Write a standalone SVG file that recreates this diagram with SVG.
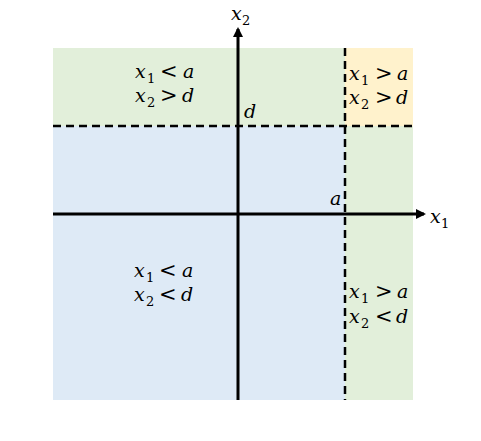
<svg xmlns="http://www.w3.org/2000/svg" width="481" height="441" viewBox="0 0 481 441">
<style>
.m{font-family:"DejaVu Serif","Liberation Serif",serif;font-style:italic;font-size:19px;fill:#000}
.s{font-style:normal;font-size:13px}
.o{font-style:normal;font-size:21px}
.dash{stroke:#000;stroke-width:2.5;stroke-dasharray:8,5;fill:none}
.ax{stroke:#000;stroke-width:3;fill:none}
</style>
<defs>
<marker id="ah" markerWidth="10" markerHeight="10" refX="8" refY="5" orient="auto" markerUnits="userSpaceOnUse">
<path d="M0,0 L10,5 L0,10 Z" fill="#000"/>
</marker>
</defs>
<rect width="481" height="441" fill="#fff"/>
<g id="regions">
<rect id="r-tl" x="53" y="48" width="292" height="78" fill="#E2EFDA"/>
<rect id="r-tr" x="345" y="48" width="68" height="78" fill="#FFF2CC"/>
<rect id="r-bl" x="53" y="126" width="292" height="274" fill="#DEEAF6"/>
<rect id="r-br" x="345" y="126" width="68" height="274" fill="#E2EFDA"/>
</g>
<g id="connectors">
<line class="dash" x1="53" y1="126" x2="413" y2="126"/>
<line class="dash" x1="345" y1="48" x2="345" y2="400"/>
<line class="ax" x1="53" y1="214" x2="424" y2="214" marker-end="url(#ah)"/>
<line class="ax" x1="238" y1="400" x2="238" y2="29" marker-end="url(#ah)"/>
</g>
<g id="axis-labels">
<text class="m"><tspan x="231" y="20">x</tspan><tspan class="s" x="242" y="25">2</tspan></text>
<text class="m"><tspan x="430" y="223">x</tspan><tspan class="s" x="441" y="228">1</tspan></text>
<text class="m" x="244" y="118">d</text>
<text class="m" x="330" y="205">a</text>
</g>
<g id="label-tl">
<text class="m"><tspan x="135" y="78">x</tspan><tspan class="s" x="147" y="83">1</tspan><tspan class="o" x="160" y="78">&lt;</tspan><tspan x="183" y="78">a</tspan></text>
<text class="m"><tspan x="135" y="102">x</tspan><tspan class="s" x="147" y="107">2</tspan><tspan class="o" x="160" y="102">&gt;</tspan><tspan x="182" y="102">d</tspan></text>
</g>
<g id="label-tr">
<text class="m"><tspan x="349" y="80">x</tspan><tspan class="s" x="361" y="85">1</tspan><tspan class="o" x="375" y="80">&gt;</tspan><tspan x="397" y="80">a</tspan></text>
<text class="m"><tspan x="349" y="104">x</tspan><tspan class="s" x="361" y="109">2</tspan><tspan class="o" x="375" y="104">&gt;</tspan><tspan x="396" y="104">d</tspan></text>
</g>
<g id="label-bl">
<text class="m"><tspan x="134" y="277">x</tspan><tspan class="s" x="146" y="282">1</tspan><tspan class="o" x="159" y="277">&lt;</tspan><tspan x="182" y="277">a</tspan></text>
<text class="m"><tspan x="134" y="301">x</tspan><tspan class="s" x="146" y="306">2</tspan><tspan class="o" x="159" y="301">&lt;</tspan><tspan x="181" y="301">d</tspan></text>
</g>
<g id="label-br">
<text class="m"><tspan x="349" y="298">x</tspan><tspan class="s" x="361" y="303">1</tspan><tspan class="o" x="375" y="298">&gt;</tspan><tspan x="397" y="298">a</tspan></text>
<text class="m"><tspan x="349" y="323">x</tspan><tspan class="s" x="361" y="328">2</tspan><tspan class="o" x="375" y="323">&lt;</tspan><tspan x="396" y="323">d</tspan></text>
</g>
</svg>
